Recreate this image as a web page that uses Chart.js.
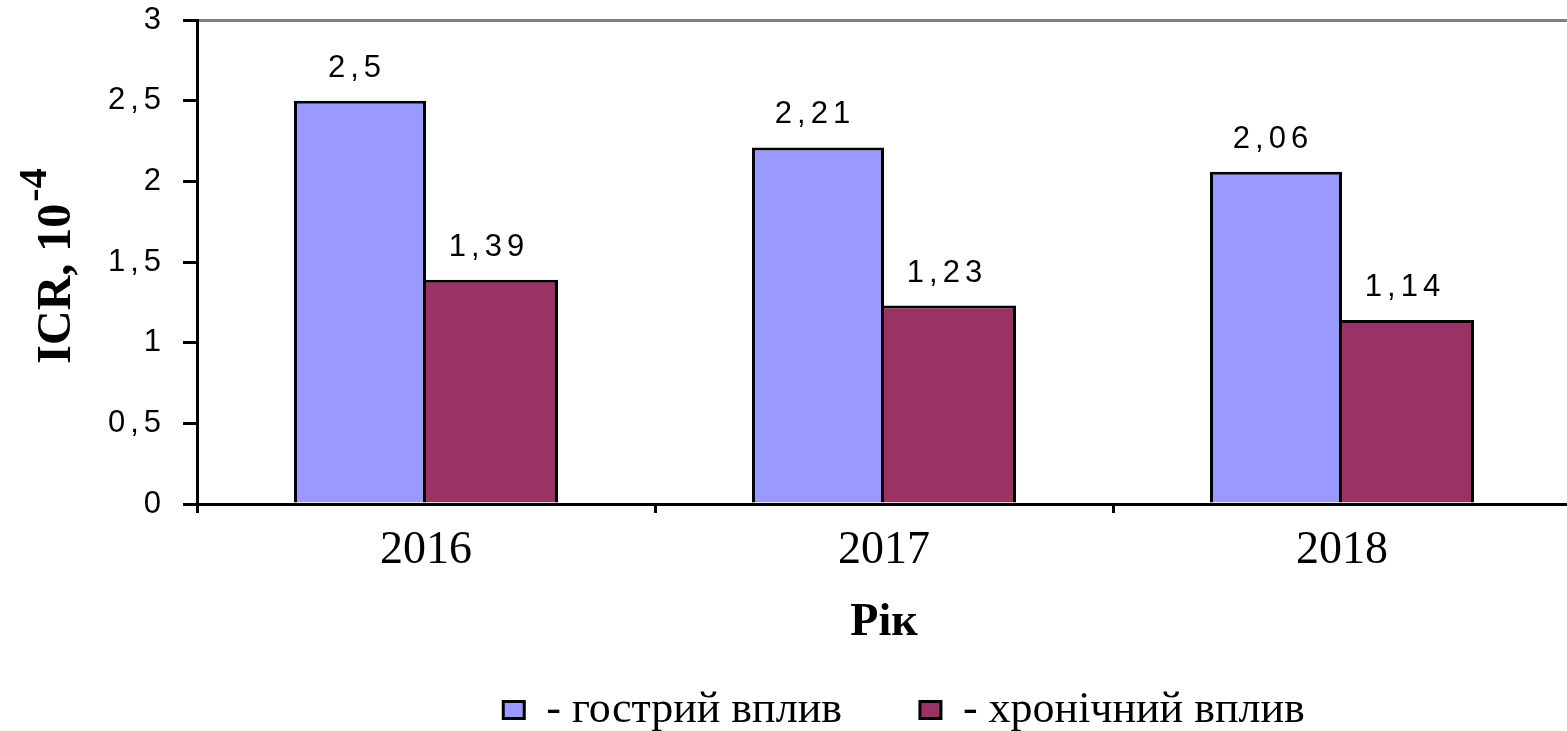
<!DOCTYPE html>
<html>
<head>
<meta charset="utf-8">
<script src="https://cdn.jsdelivr.net/npm/chart.js@4.4.0/dist/chart.umd.min.js"></script>
<style>
  html, body { margin: 0; padding: 0; background: #fff; overflow: hidden; }
  #wrap { width: 1571px; height: 742px; }
</style>
</head>
<body>
<div id="wrap"><canvas id="chart"></canvas></div>
<script>
const years = ['2016', '2017', '2018'];
const acute = [2.5, 2.21, 2.06];
const chronic = [1.39, 1.23, 1.14];
const seriesNames = ['- гострий вплив', '- хронічний вплив'];
const yTicks = [0, 0.5, 1, 1.5, 2, 2.5, 3];
const yTitleMain = 'ICR, 10';
const yTitleSup = '-4';
const xTitle = 'Рік';

const SANS = '"Liberation Sans", Arial, sans-serif';
const SERIF = '"Liberation Serif", "Times New Roman", serif';

function comma(v) {
    return String(v).replace('.', ',');
}

// numbers above the bars
const valueLabels = {
    id: 'valueLabels',
    afterDatasetsDraw(chart) {
        const ctx = chart.ctx;
        ctx.save();
        ctx.font = '31px ' + SANS;
        ctx.letterSpacing = '5px';
        ctx.fillStyle = '#000';
        ctx.textAlign = 'center';
        ctx.textBaseline = 'alphabetic';
        chart.data.datasets.forEach((ds, i) => {
            chart.getDatasetMeta(i).data.forEach((bar, j) => {
                ctx.fillText(comma(ds.data[j]), bar.x - 3, bar.y - 24);
            });
        });
        ctx.restore();
    }
};

// rotated axis title with the superscript power
const yTitle = {
    id: 'yTitle',
    afterDraw(chart) {
        const ctx = chart.ctx;
        const area = chart.chartArea;
        ctx.save();
        ctx.font = 'bold 48px ' + SERIF;
        const w1 = ctx.measureText(yTitleMain).width;
        ctx.font = 'bold 40px ' + SERIF;
        const w2 = ctx.measureText(yTitleSup).width;
        const total = w1 + 2 + w2;
        const cy = (area.top + area.bottom) / 2 + 4;
        ctx.translate(70, cy + total / 2);
        ctx.rotate(-Math.PI / 2);
        ctx.fillStyle = '#000';
        ctx.textAlign = 'left';
        ctx.textBaseline = 'alphabetic';
        ctx.font = 'bold 48px ' + SERIF;
        ctx.fillText(yTitleMain, 0, 0);
        ctx.font = 'bold 40px ' + SERIF;
        ctx.fillText(yTitleSup, w1 + 2, -24);
        ctx.restore();
    }
};

// the y tick labels are widely spaced in the original,
// and the legend sits a little right of the plot centre
const tweaks = {
    id: 'tweaks',
    afterLayout(chart) {
        chart.legend.left += 20;
        chart.legend.right += 20;
        const s = chart.scales.y;
        if (s._spaced) return;
        const orig = s.drawLabels;
        s.drawLabels = function (area) {
            this.ctx.save();
            this.ctx.letterSpacing = '5px';
            orig.call(this, area);
            this.ctx.restore();
        };
        s._spaced = true;
    }
};

const ctx = document.getElementById('chart').getContext('2d');
new Chart(ctx, {
    type: 'bar',
    data: {
        labels: years,
        datasets: [{
            label: seriesNames[0],
            data: acute,
            backgroundColor: '#9999FF',
            borderColor: '#000',
            borderWidth: { top: 3, left: 3, right: 3, bottom: 0 }
        }, {
            label: seriesNames[1],
            data: chronic,
            backgroundColor: '#993366',
            borderColor: '#000',
            borderWidth: { top: 3, left: 0, right: 3, bottom: 0 }
        }]
    },
    options: {
        responsive: true,
        maintainAspectRatio: false,
        animation: false,
        layout: { padding: { top: 20, left: 0, right: 0, bottom: 0 } },
        datasets: {
            bar: { categoryPercentage: 0.5764, barPercentage: 1 }
        },
        scales: {
            x: {
                afterFit: s => { s.height = 106; },
                grid: {
                    display: true,
                    drawOnChartArea: false,
                    offset: true,
                    tickLength: 9,
                    tickWidth: 3,
                    tickColor: '#000',
                    color: '#000'
                },
                border: { display: true, color: '#000', width: 3 },
                ticks: {
                    color: '#000',
                    font: { family: SERIF, size: 46 },
                    padding: 10
                },
                title: {
                    display: true,
                    text: xTitle,
                    color: '#000',
                    font: { family: SERIF, size: 46, weight: 'bold' },
                    padding: { top: 0, bottom: -41 }
                }
            },
            y: {
                min: yTicks[0],
                max: yTicks[yTicks.length - 1],
                afterFit: s => {
                    s.width = 197;
                    s.paddingTop = 0;
                    s.paddingBottom = 0;
                },
                afterBuildTicks: s => { s.ticks = yTicks.map(v => ({ value: v })); },
                grid: {
                    color: c => (c.tick && c.tick.value === yTicks[yTicks.length - 1]) ? '#808080' : 'rgba(0,0,0,0)',
                    lineWidth: 3,
                    tickColor: '#000',
                    tickWidth: 3,
                    tickLength: 14
                },
                border: { display: true, color: '#000', width: 3 },
                ticks: {
                    color: '#000',
                    font: { family: SANS, size: 31 },
                    padding: 17,
                    callback: v => comma(v)
                }
            }
        },
        plugins: {
            tooltip: { enabled: false },
            legend: {
                position: 'bottom',
                fullSize: false,
                align: 'center',
                labels: {
                    color: '#000',
                    font: { family: SERIF, size: 44 },
                    boxWidth: 21,
                    boxHeight: 17,
                    padding: 78,
                    generateLabels(chart) {
                        return Chart.defaults.plugins.legend.labels.generateLabels(chart)
                            .map(l => Object.assign(l, { lineWidth: 3, strokeStyle: '#000' }));
                    }
                }
            }
        }
    },
    plugins: [valueLabels, yTitle, tweaks]
});
</script>
</body>
</html>
